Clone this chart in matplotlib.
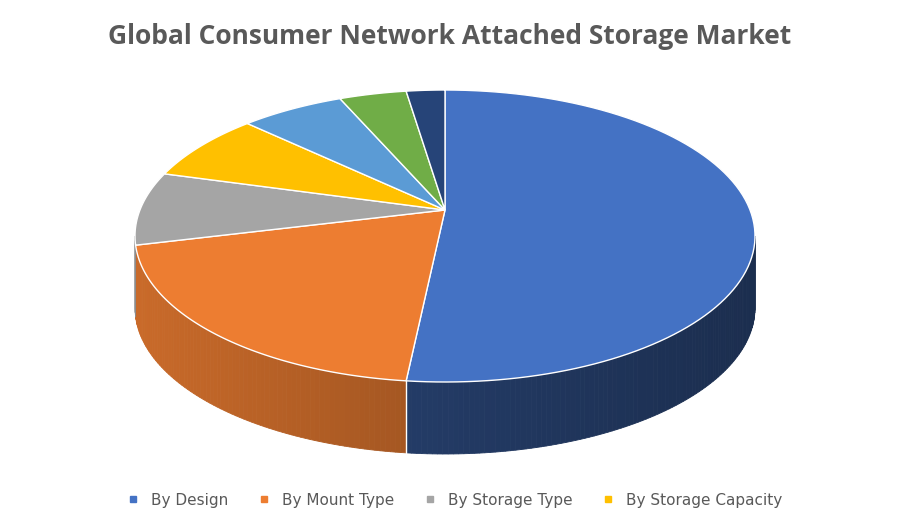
import numpy as np
import matplotlib.pyplot as plt
from matplotlib.patches import Polygon
from matplotlib.colors import to_rgb
from matplotlib.lines import Line2D

labels = ["By Design", "By Mount Type", "By Storage Type", "By Storage Capacity",
          "Other 1", "Other 2", "Other 3"]
values = [52, 22, 8, 7, 5.5, 3.5, 2]
colors = ["#4472c4", "#ed7d31", "#a5a5a5", "#ffc000", "#5b9bd5", "#70ad47", "#264478"]

cx, cy, rx, ry, depth = 445, 236, 310, 146, 72
apex = (445, 210)


def pt(th, dy=0):
    return cx + rx * np.sin(th), cy - ry * np.cos(th) + dy


fig = plt.figure(figsize=(9, 5.25), dpi=100)
ax = fig.add_axes([0, 0, 1, 1])
ax.set_xlim(0, 900)
ax.set_ylim(525, 0)
ax.axis("off")

fr = np.array(values) / sum(values)
edges = np.concatenate([[0], np.cumsum(fr)]) * 2 * np.pi

# side faces (front half only)
for i in range(len(values)):
    a, b = max(edges[i], np.pi / 2), min(edges[i + 1], 3 * np.pi / 2)
    if b <= a:
        continue
    base = np.array(to_rgb(colors[i]))
    ts = np.linspace(a, b, max(int((b - a) * 60), 2))
    for t0, t1 in zip(ts[:-1], ts[1:]):
        x = (np.sin(0.5 * (t0 + t1)) + 1) / 2  # 0 left .. 1 right
        if i == 0:
            f = 0.62 - 0.22 * x
        else:
            f = 0.85 - 0.35 * x
        c = base * f
        p0, p1 = pt(t0), pt(t1)
        q1, q0 = pt(t1, depth), pt(t0, depth)
        ax.add_patch(Polygon([p0, p1, q1, q0], closed=True, fc=c, ec=c, lw=0.6))

# seam between first two slices
p, q = pt(edges[1]), pt(edges[1], depth)
ax.plot([p[0], q[0]], [p[1], q[1]], color="white", lw=1)

# top faces
for i in range(len(values)):
    ts = np.linspace(edges[i], edges[i + 1], 100)
    pts = [apex] + [pt(t) for t in ts]
    ax.add_patch(Polygon(pts, closed=True, fc=colors[i], ec="white", lw=1))

ax.text(450, 36, "Global Consumer Network Attached Storage Market", ha="center",
        va="center", fontsize=19, fontweight="bold", color="#595959",
        family="Open Sans")

handles = [Line2D([], [], marker="s", ls="", color=colors[i], markersize=5)
           for i in range(4)]
fig.legend(handles, labels[:4], loc="center", bbox_to_anchor=(0.5, 0.047),
           ncol=4, frameon=False, fontsize=11, handletextpad=0.2,
           columnspacing=1.3, labelcolor="#595959")

fig.savefig("out.png", dpi=100)
